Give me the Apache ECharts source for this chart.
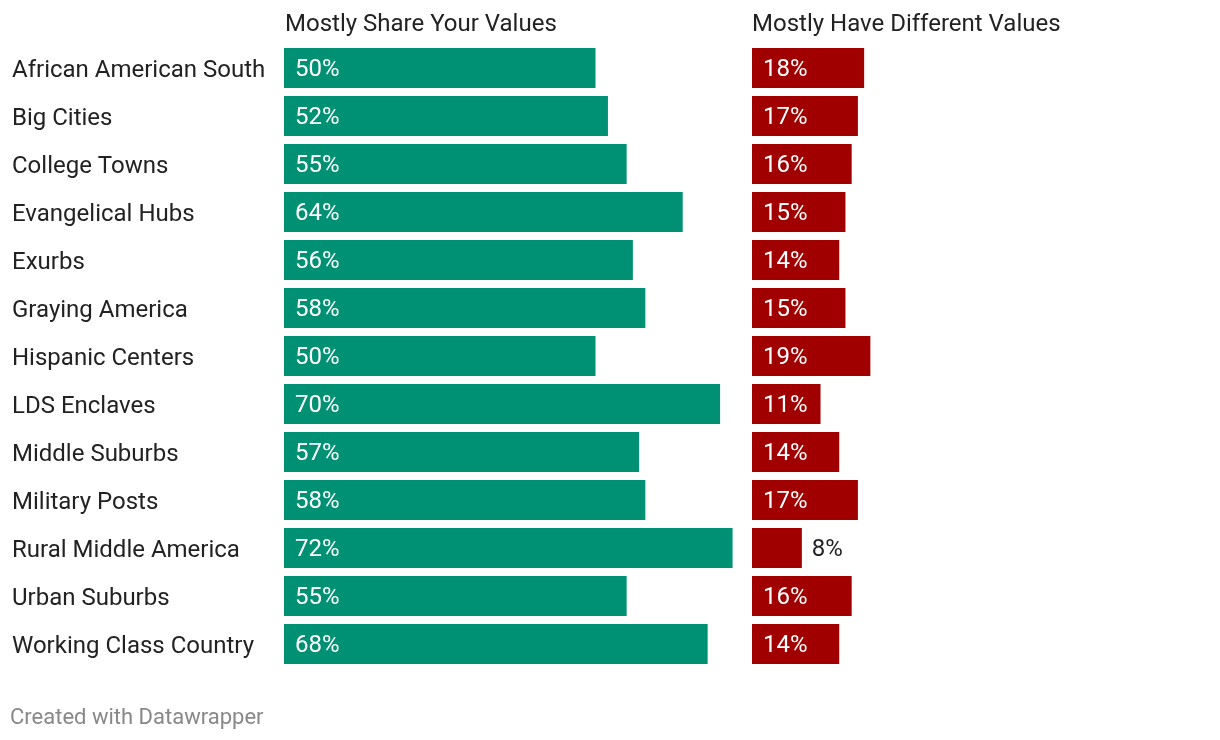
<!DOCTYPE html>
<html><head><meta charset="utf-8">
<script src="https://cdn.jsdelivr.net/npm/echarts@6/dist/echarts.min.js"></script>
<style>html,body{margin:0;padding:0;background:#fff}#c{width:1220px;height:740px}</style>
</head><body><div id="c"></div>
<script>
const categories = ["African American South","Big Cities","College Towns","Evangelical Hubs","Exurbs","Graying America","Hispanic Centers","LDS Enclaves","Middle Suburbs","Military Posts","Rural Middle America","Urban Suburbs","Working Class Country"];
const shareValues = [50,52,55,64,56,58,50,70,57,58,72,55,68];
const differentValues = [18,17,16,15,14,15,19,11,14,17,8,16,14];
const seriesNames = ["Mostly Share Your Values","Mostly Have Different Values"];

const FONT = 'Roboto';
const chart = echarts.init(document.getElementById('c'));
function diffData(){
  return differentValues.map(v => v < 10 ? {value:v, label:{position:'right', distance:10, color:'#222'}} : v);
}
chart.setOption({
  animation:false,
  textStyle:{fontFamily:FONT},
  grid:[
    {left:284, top:44, width:498.4, height:624},
    {left:752, top:44, width:436.1, height:624}
  ],
  xAxis:[
    {gridIndex:0, type:'value', min:0, max:80, show:false},
    {gridIndex:1, type:'value', min:0, max:70, show:false}
  ],
  yAxis:[
    {gridIndex:0, type:'category', data:categories, inverse:true,
     axisLine:{show:false}, axisTick:{show:false}, splitLine:{show:false},
     axisLabel:{align:'left', margin:272, formatter:'{a|{value}}',
       rich:{a:{color:'#222', fontSize:24, fontFamily:FONT, padding:[5,0,0,0]}}}},
    {gridIndex:1, type:'category', data:categories, inverse:true, show:false}
  ],
  graphic:[
    {type:'text', left:285, top:13, style:{text:seriesNames[0], fontSize:24, fontFamily:FONT, fill:'#222'}},
    {type:'text', left:752, top:13, style:{text:seriesNames[1], fontSize:24, fontFamily:FONT, fill:'#222'}},
    {type:'text', left:10, top:707, style:{text:'Created with Datawrapper', fontSize:22, fontFamily:FONT, fill:'#888'}}
  ],
  series:[
    {name:seriesNames[0], type:'bar', xAxisIndex:0, yAxisIndex:0, data:shareValues, barWidth:40,
     itemStyle:{color:'#009174'},
     label:{show:true, position:'insideLeft', distance:11, offset:[0,2], formatter:'{c}%', color:'#fff', fontSize:24, fontFamily:FONT}},
    {name:seriesNames[1], type:'bar', xAxisIndex:1, yAxisIndex:1, data:diffData(), barWidth:40,
     itemStyle:{color:'#a00000'},
     label:{show:true, position:'insideLeft', distance:11, offset:[0,2], formatter:'{c}%', color:'#fff', fontSize:24, fontFamily:FONT}}
  ]
});
</script></body></html>
